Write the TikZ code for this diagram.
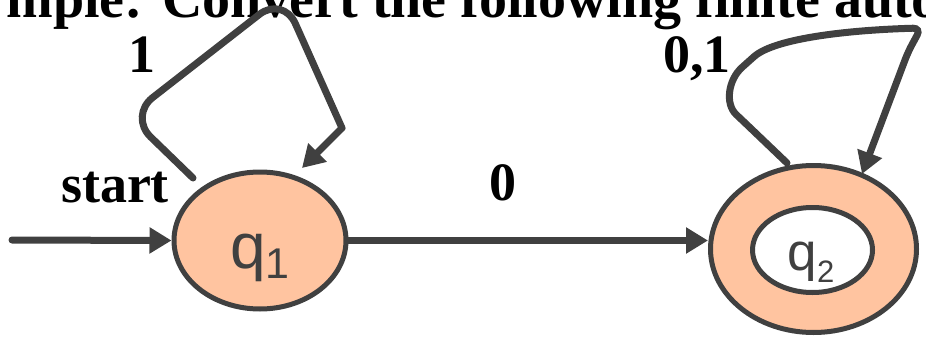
\documentclass[tikz,border=0pt]{standalone}
\usepackage{fontspec}
\setmainfont{Liberation Serif}
\setsansfont{Liberation Sans}
\usetikzlibrary{arrows.meta,shapes.geometric}
\definecolor{peach}{RGB}{255,196,160}
\definecolor{ink}{RGB}{64,64,64}
\begin{document}
\begin{tikzpicture}[x=1pt,y=-1pt,
  state/.style={ellipse, draw=ink, line width=5pt, fill=peach, inner sep=0pt},
  inner/.style={ellipse, draw=ink, line width=5pt, fill=white, inner sep=0pt},
  conn/.style={draw=ink, line width=7pt, line cap=round, -{Triangle[length=22pt,width=25pt]}},
  loopline/.style={draw=ink, line width=7pt, line cap=round},
  lbl/.style={font=\fontsize{54}{54}\selectfont\bfseries, text=black, inner sep=0pt},
  ttl/.style={font=\fontsize{56}{56}\selectfont\bfseries, text=black, inner sep=0pt}]
\useasboundingbox (0,0) rectangle (926,340);
\clip (0,0) rectangle (926,340);
% title (cut off at the top, as in the reference)
\node[ttl, anchor=base east] (title) at (940,17) {mple: Convert the following finite auto};
% states
\node[state, minimum width=172pt, minimum height=137pt] (q1) at (260,240.5) {};
\node[state, minimum width=206pt, minimum height=167pt] (q2) at (813.5,249) {};
\node[inner, minimum width=120pt, minimum height=85pt] (q2in) at (812.5,250) {};
\node[font=\sffamily, text=ink, inner sep=0pt, anchor=base west] (t1) at (230,268)
  {\fontsize{64}{64}\selectfont q\raisebox{-10pt}{\fontsize{43}{43}\selectfont 1}};
\node[font=\sffamily, text=ink, inner sep=0pt, anchor=base west] (t2) at (787.5,270.5)
  {\fontsize{53}{53}\selectfont q\raisebox{-11.5pt}{\fontsize{31}{31}\selectfont 2}};
% start arrow
\coordinate (s0) at (12,240);
\draw[conn] (s0) -- (q1.west);
% transition 0
\draw[conn] (q1.east) -- (q1.east -| q2.west);
% loop on q1
\coordinate (a1) at (193,178);
\coordinate (a2) at (342,128);
\coordinate (a3) at (302,168);
\draw[loopline, rounded corners=30pt] (a1) -- (129,116) -- (283,-4) -- (a2);
\draw[conn] (a2) -- (a3);
% loop on q2
\coordinate (b1) at (787,163);
\coordinate (b2) at (862,174);
\draw[conn, rounded corners=8pt] (b1) -- (742,120) .. controls (725,104) and (728,80) .. (748,62)
  .. controls (775,38) and (850,30) .. (921,28) -- (908,52) -- (b2);
% labels
\node[lbl] (l1) at (142,55) {1};
\node[lbl, anchor=base] (l01) at (697,72) {0,1};
\node[lbl, anchor=base] (lst) at (115,202) {start};
\node[lbl, anchor=base] (l0) at (503,200) {0};
\end{tikzpicture}
\end{document}
